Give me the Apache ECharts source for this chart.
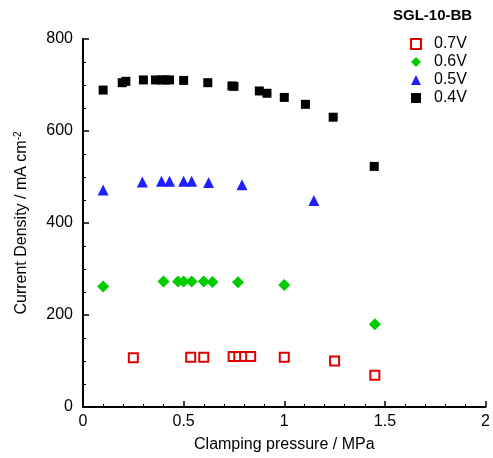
<!DOCTYPE html>
<html><head><meta charset="utf-8">
<script src="https://cdn.jsdelivr.net/npm/echarts@6/dist/echarts.min.js"></script>
<style>html,body{margin:0;padding:0;background:#fff}#c{width:493px;height:458px}</style>
</head><body><div id="c"></div>
<script>
const xTicks = [0, 0.5, 1, 1.5, 2];
const yTicks = [0, 200, 400, 600, 800];
const seriesNames = ['0.7V', '0.6V', '0.5V', '0.4V'];
const v07 = [[0.25,107],[0.535,108],[0.6,108],[0.746,110],[0.774,110],[0.803,110],[0.833,110],[1.0,108],[1.25,100],[1.45,69]];
const v06 = [[0.1,262],[0.4,273],[0.472,273],[0.5,273],[0.54,273],[0.6,273],[0.643,272],[0.77,271],[1.0,265],[1.45,180]];
const v05 = [[0.1,472],[0.295,489],[0.39,491],[0.43,491],[0.5,491],[0.54,491],[0.624,488],[0.79,483],[1.147,449]];
const v04 = [[0.1,689],[0.195,705],[0.213,708],[0.3,711],[0.36,711],[0.39,711],[0.41,711],[0.43,711],[0.5,710],[0.62,705],[0.74,698],[0.75,697],[0.876,687],[0.914,682],[1.0,673],[1.105,658],[1.243,630],[1.447,523]];

const FONT = 'Arial, "Liberation Sans", sans-serif';
const chart = echarts.init(document.getElementById('c'), null, {renderer: 'canvas'});
chart.setOption({
  animation: false,
  backgroundColor: '#fff',
  textStyle: {fontFamily: FONT},
  title: {text: 'SGL-10-BB', left: 388, top: 3, textStyle: {fontFamily: FONT, fontSize: 15, fontWeight: 'bold', color: '#000'}},
  legend: {
    orient: 'vertical', left: 405, top: 31, itemGap: 2, itemWidth: 10, itemHeight: 10,
    textStyle: {fontFamily: FONT, fontSize: 16, lineHeight: 14, color: '#000', padding: [0, 0, 0, 8]},
    data: seriesNames
  },
  grid: {left: 83, right: 6, top: 39, bottom: 50},
  xAxis: {
    type: 'value', min: xTicks[0], max: xTicks[xTicks.length - 1], interval: 0.5,
    name: 'Clamping pressure / MPa', nameLocation: 'middle', nameGap: 30,
    nameTextStyle: {fontFamily: FONT, fontSize: 16, color: '#000'},
    axisLine: {lineStyle: {color: '#000', width: 2}},
    axisTick: {inside: true, length: 6, lineStyle: {color: '#000', width: 1.5}},
    minorTick: {show: true, splitNumber: 5, length: 3, lineStyle: {color: '#000', width: 1}},
    splitLine: {show: false},
    axisLabel: {fontFamily: FONT, fontSize: 16, color: '#000', margin: 7, formatter: v => String(v)}
  },
  yAxis: {
    type: 'value', min: yTicks[0], max: yTicks[yTicks.length - 1], interval: 200,
    name: 'Current Density / mA cm{sup|-2}', nameLocation: 'middle', nameGap: 52, nameRotate: 90,
    nameTextStyle: {fontFamily: FONT, fontSize: 16, color: '#000', rich: {sup: {fontFamily: FONT, fontSize: 10, color: '#000', verticalAlign: 'top', padding: [0,0,8,0]}}},
    axisLine: {show: true, lineStyle: {color: '#000', width: 2}},
    axisTick: {show: true, inside: true, length: 6, lineStyle: {color: '#000', width: 1.5}},
    minorTick: {show: true, splitNumber: 4, length: 3, lineStyle: {color: '#000', width: 1}},
    splitLine: {show: false},
    axisLabel: {fontFamily: FONT, fontSize: 16, color: '#000', margin: 10}
  },
  series: [
    {name: seriesNames[0], type: 'scatter', data: v07, symbol: 'rect', symbolSize: 9,
     itemStyle: {color: '#fff', borderColor: '#e00000', borderWidth: 2, opacity: 1}},
    {name: seriesNames[1], type: 'scatter', data: v06, symbol: 'diamond', symbolSize: 12,
     itemStyle: {color: '#00cc00', opacity: 1}},
    {name: seriesNames[2], type: 'scatter', data: v05, symbol: 'triangle', symbolSize: 11,
     itemStyle: {color: '#2020ff', opacity: 1}},
    {name: seriesNames[3], type: 'scatter', data: v04, symbol: 'rect', symbolSize: 9,
     itemStyle: {color: '#000', opacity: 1}}
  ]
});
</script></body></html>
